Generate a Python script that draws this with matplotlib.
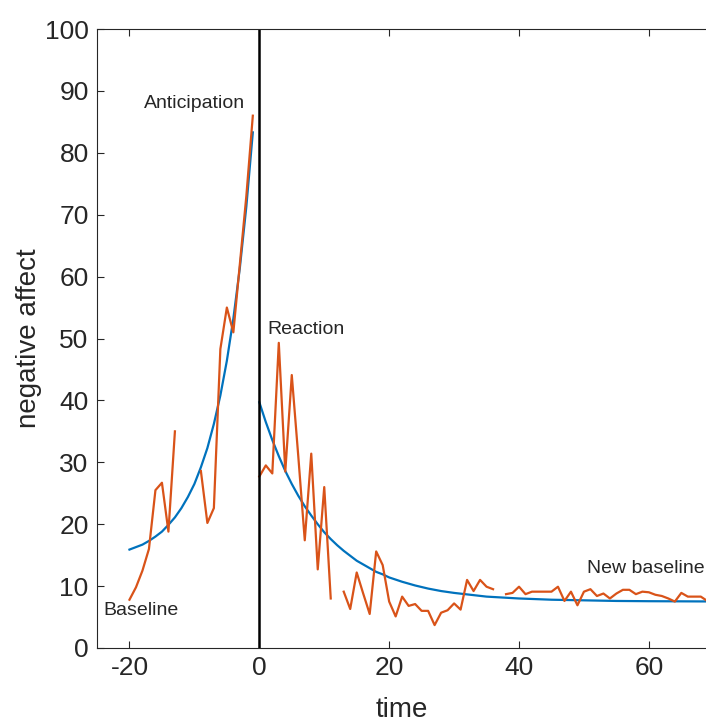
import numpy as np
import matplotlib
matplotlib.use("Agg")
import matplotlib.pyplot as plt

plt.rcParams['font.family'] = ['Liberation Sans', 'DejaVu Sans']
plt.rcParams['axes.unicode_minus'] = False

nan = np.nan

# observed negative affect before the event (gaps are missing measurements)
t_obs_pre = np.arange(-20, 0)
affect_pre = [7.8, 9.8, 12.5, 16.0, 25.5, 26.7, 18.8, 35.0, nan, nan,
              nan, 28.6, 20.2, 22.6, 48.3, 55.0, 51.0, 62.0, 73.0, 86.0]

# observed negative affect after the event
t_obs_post = np.arange(0, 70)
affect_post = [
    27.7, 29.5, 28.2, 49.3, 28.5, 44.1, 31.0, 17.4, 31.4, 12.7,
    26.0, 8.0, nan, 9.1, 6.3, 12.2, 8.8, 5.5, 15.6, 13.4,
    7.5, 5.1, 8.3, 6.8, 7.1, 6.0, 6.0, 3.7, 5.7, 6.1,
    7.2, 6.2, 11.0, 9.2, 11.0, 9.9, 9.5, nan, 8.7, 8.9,
    9.9, 8.7, 9.1, 9.1, 9.1, 9.1, 9.9, 7.6, 9.1, 6.9,
    9.1, 9.5, 8.4, 8.8, 8.0, 8.8, 9.4, 9.4, 8.7, 9.1,
    9.0, 8.6, 8.4, 8.0, 7.5, 8.9, 8.3, 8.3, 8.3, 7.6,
]

# fitted curve before the event
t_pre = np.arange(-20, 0)
fit_pre = [15.9, 16.3, 16.7, 17.3, 18.0, 18.8, 19.9, 21.1, 22.6, 24.4,
           26.5, 29.2, 32.3, 36.2, 40.8, 46.4, 53.2, 61.4, 71.3, 83.3]

# fitted curve after the event
t_post = [0, 1, 2, 3, 4, 5, 6, 7, 8, 9, 10, 11, 12, 13, 14, 15, 16, 17, 18,
          19, 20, 22, 24, 26, 28, 30, 35, 40, 45, 50, 55, 60, 69]
fit_post = [39.7, 36.5, 33.6, 31.0, 28.6, 26.5, 24.6, 22.9, 21.4, 20.0,
            18.7, 17.6, 16.6, 15.7, 14.9, 14.1, 13.5, 12.9, 12.3, 11.9,
            11.4, 10.7, 10.1, 9.6, 9.2, 8.9, 8.3, 8.0, 7.8, 7.7, 7.6,
            7.56, 7.52]

blue = '#0072BD'
orange = '#D95319'
grey = '#262626'

fig = plt.figure(figsize=(7.06, 7.22), dpi=100)
ax = fig.add_axes([0.1374, 0.1025, 0.8626, 0.8573])

ax.plot(t_pre, fit_pre, color=blue, lw=1.6)
ax.plot(t_post, fit_post, color=blue, lw=1.6)
ax.plot(t_obs_pre, affect_pre, color=orange, lw=1.6)
ax.plot(t_obs_post, affect_post, color=orange, lw=1.6)
ax.plot([0, 0], [0, 100], color='black', lw=1.8)

ax.text(-24, 6.1, 'Baseline', fontsize=14, color=grey, va='center')
ax.text(-17.8, 87.9, 'Anticipation', fontsize=14, color=grey, va='center')
ax.text(1.3, 51.5, 'Reaction', fontsize=14, color=grey, va='center')
ax.text(50.5, 12.8, 'New baseline', fontsize=14, color=grey, va='center')

ax.set_xlim(-25, 68.8)
ax.set_ylim(0, 100)
ax.set_xticks([-20, 0, 20, 40, 60])
ax.set_yticks(np.arange(0, 101, 10))
ax.set_xlabel('time', fontsize=20, color=grey, labelpad=12)
ax.set_ylabel('negative affect', fontsize=20, color=grey, labelpad=2)
ax.tick_params(direction='in', length=5, width=0.8, colors=grey,
               labelsize=19, top=True)
ax.tick_params(axis='y', pad=6)
ax.tick_params(axis='x', pad=6)
for side in ['left', 'bottom', 'top']:
    ax.spines[side].set_color(grey)
    ax.spines[side].set_linewidth(0.8)
ax.spines['right'].set_visible(False)

fig.savefig('out.png', dpi=100)
